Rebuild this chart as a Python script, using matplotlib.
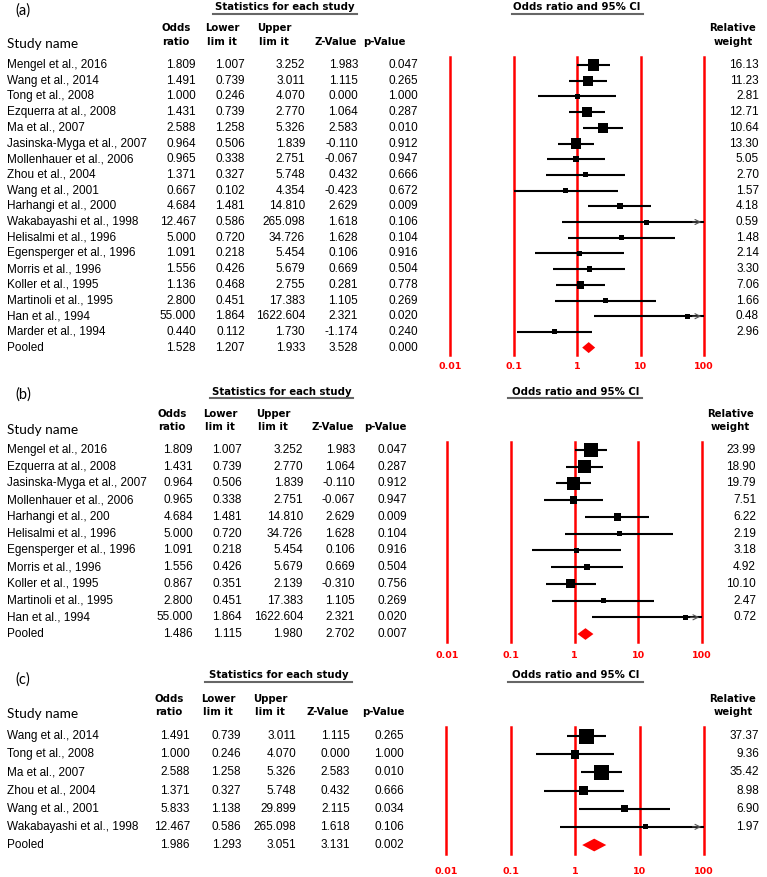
import matplotlib.pyplot as plt
import numpy as np
from matplotlib.lines import Line2D
from matplotlib.ticker import NullLocator
from matplotlib.transforms import blended_transform_factory

# ---- data ----
ticks = [0.01, 0.1, 1, 10, 100]
tick_labels = ["0.01", "0.1", "1", "10", "100"]

studies_a = ["Mengel et al., 2016", "Wang et al., 2014", "Tong et al., 2008", "Ezquerra at al., 2008",
             "Ma et al., 2007", "Jasinska-Myga et al., 2007", "Mollenhauer et al., 2006", "Zhou et al., 2004",
             "Wang et al., 2001", "Harhangi et al., 2000", "Wakabayashi et al., 1998", "Helisalmi et al., 1996",
             "Egensperger et al., 1996", "Morris et al., 1996", "Koller et al., 1995", "Martinoli et al., 1995",
             "Han et al., 1994", "Marder et al., 1994", "Pooled"]
or_a = [1.809, 1.491, 1.000, 1.431, 2.588, 0.964, 0.965, 1.371, 0.667, 4.684, 12.467, 5.000, 1.091, 1.556,
        1.136, 2.800, 55.000, 0.440, 1.528]
lo_a = [1.007, 0.739, 0.246, 0.739, 1.258, 0.506, 0.338, 0.327, 0.102, 1.481, 0.586, 0.720, 0.218, 0.426,
        0.468, 0.451, 1.864, 0.112, 1.207]
up_a = [3.252, 3.011, 4.070, 2.770, 5.326, 1.839, 2.751, 5.748, 4.354, 14.810, 265.098, 34.726, 5.454, 5.679,
        2.755, 17.383, 1622.604, 1.730, 1.933]
z_a = [1.983, 1.115, 0.000, 1.064, 2.583, -0.110, -0.067, 0.432, -0.423, 2.629, 1.618, 1.628, 0.106, 0.669,
       0.281, 1.105, 2.321, -1.174, 3.528]
p_a = [0.047, 0.265, 1.000, 0.287, 0.010, 0.912, 0.947, 0.666, 0.672, 0.009, 0.106, 0.104, 0.916, 0.504,
       0.778, 0.269, 0.020, 0.240, 0.000]
w_a = [16.13, 11.23, 2.81, 12.71, 10.64, 13.30, 5.05, 2.70, 1.57, 4.18, 0.59, 1.48, 2.14, 3.30, 7.06, 1.66,
       0.48, 2.96]

studies_b = ["Mengel et al., 2016", "Ezquerra at al., 2008", "Jasinska-Myga et al., 2007",
             "Mollenhauer et al., 2006", "Harhangi et al., 200", "Helisalmi et al., 1996",
             "Egensperger et al., 1996", "Morris et al., 1996", "Koller et al., 1995", "Martinoli et al., 1995",
             "Han et al., 1994", "Pooled"]
or_b = [1.809, 1.431, 0.964, 0.965, 4.684, 5.000, 1.091, 1.556, 0.867, 2.800, 55.000, 1.486]
lo_b = [1.007, 0.739, 0.506, 0.338, 1.481, 0.720, 0.218, 0.426, 0.351, 0.451, 1.864, 1.115]
up_b = [3.252, 2.770, 1.839, 2.751, 14.810, 34.726, 5.454, 5.679, 2.139, 17.383, 1622.604, 1.980]
z_b = [1.983, 1.064, -0.110, -0.067, 2.629, 1.628, 0.106, 0.669, -0.310, 1.105, 2.321, 2.702]
p_b = [0.047, 0.287, 0.912, 0.947, 0.009, 0.104, 0.916, 0.504, 0.756, 0.269, 0.020, 0.007]
w_b = [23.99, 18.90, 19.79, 7.51, 6.22, 2.19, 3.18, 4.92, 10.10, 2.47, 0.72]

studies_c = ["Wang et al., 2014", "Tong et al., 2008", "Ma et al., 2007", "Zhou et al., 2004",
             "Wang et al., 2001", "Wakabayashi et al., 1998", "Pooled"]
or_c = [1.491, 1.000, 2.588, 1.371, 5.833, 12.467, 1.986]
lo_c = [0.739, 0.246, 1.258, 0.327, 1.138, 0.586, 1.293]
up_c = [3.011, 4.070, 5.326, 5.748, 29.899, 265.098, 3.051]
z_c = [1.115, 0.000, 2.583, 0.432, 2.115, 1.618, 3.131]
p_c = [0.265, 1.000, 0.010, 0.666, 0.034, 0.106, 0.002]
w_c = [37.37, 9.36, 35.42, 8.98, 6.90, 1.97]

# ---- layout (pixel positions of each panel) ----
lay_a = dict(tag="(a)", row0=65, dy=15.7, xaxis=(450, 704), pad=4.5, cols=(196, 245, 305, 358, 418), wcol=759,
             label=(15, 11), stats=(285, 7, 213, 357, 14), orhead=(577, 7, 512, 643, 14),
             h1=28, h2=42, sname=44, hcx=(176, 222, 274, 336, 384, 733))
lay_b = dict(tag="(b)", row0=450, dy=16.73, xaxis=(447, 702), pad=6, cols=(193, 242, 303, 355, 407), wcol=756,
             label=(15, 395), stats=(282, 392, 210, 353, 398), orhead=(576, 392, 508, 642, 398),
             h1=414, h2=427, sname=430, hcx=(172, 220, 273, 333, 385, 730))
lay_c = dict(tag="(c)", row0=736, dy=18.17, xaxis=(446, 704), pad=9, cols=(190, 241, 296, 350, 404), wcol=759,
             label=(15, 680), stats=(279, 675, 205, 352, 682), orhead=(576, 675, 508, 643, 682),
             h1=699, h2=712, sname=714, hcx=(169, 218, 270, 328, 383, 733))

W, H = 767, 877
fig = plt.figure(figsize=(W / 100, H / 100), dpi=100)

DATA_FONT = dict(family="Liberation Sans", fontsize=8.5)
HEAD_FONT = dict(family="DejaVu Sans", fontsize=7.3, fontweight="bold")
CAL_FONT = dict(family="Lato", fontsize=9.8)


def fx(px):
    return px / W


def fy(py):
    return 1 - py / H


def hline(x0, x1, y):
    fig.add_artist(Line2D([fx(x0), fx(x1)], [fy(y), fy(y)], color="#666666", lw=1.5))


def draw_panel(names, odds, lower, upper, zval, pval, weight, lay):
    n = len(names)
    dy = lay["dy"]
    top = lay["row0"] - 0.5 * dy
    bot = lay["row0"] + (n - 0.5) * dy
    x0, x1 = lay["xaxis"]
    ax = fig.add_axes([fx(x0), fy(bot), fx(x1) - fx(x0), (bot - top) / H])
    ax.set_xscale("log")
    ax.set_xlim(ticks[0], ticks[-1])
    ax.set_ylim(n - 0.5, -0.5)
    ax.patch.set_visible(False)
    for s in ax.spines.values():
        s.set_visible(False)

    odds = np.array(odds)
    lower = np.array(lower)
    upper = np.array(upper)
    y = np.arange(n)

    # red reference lines
    for t in ticks:
        ax.axvline(t, color="#ff0000", lw=1.8, clip_on=False, zorder=1)

    # study CIs and boxes
    k = n - 1
    ax.hlines(y[:k], lower[:k], np.minimum(upper[:k], ticks[-1]), color="black", lw=1.5, zorder=3)
    for i in range(k):
        if upper[i] > ticks[-1]:
            ax.annotate("", xy=(ticks[-1], y[i]), xytext=(ticks[-1] * 0.6, y[i]),
                        arrowprops=dict(arrowstyle="->", color="#555555", lw=0.8, mutation_scale=9),
                        zorder=3, annotation_clip=False)
    side = np.clip(2.9 * np.sqrt(np.array(weight)), 5, 15)
    ax.scatter(odds[:k], y[:k], s=(side * 0.72) ** 2, marker="s", color="black", zorder=4, linewidths=0)

    # pooled diamond
    h = 0.35
    yp = y[-1]
    ax.fill([lower[-1], odds[-1], upper[-1], odds[-1]], [yp, yp - h, yp, yp + h], color="#ff0000",
            zorder=4, lw=0)

    ax.set_xticks(ticks)
    ax.set_xticklabels(tick_labels, color="#ff0000", fontweight="bold", fontsize=6.8, family="DejaVu Sans")
    ax.xaxis.set_minor_locator(NullLocator())
    ax.tick_params(axis="x", length=0, pad=lay["pad"])
    ax.set_yticks([])

    # table text
    tr = blended_transform_factory(fig.transFigure, ax.transData)
    cols = lay["cols"]
    for i in range(n):
        ax.text(fx(7), y[i], names[i], transform=tr, ha="left", va="center", **DATA_FONT)
        vals = [f"{odds[i]:.3f}", f"{lower[i]:.3f}", f"{upper[i]:.3f}", f"{zval[i]:.3f}", f"{pval[i]:.3f}"]
        for c, v in zip(cols, vals):
            ax.text(fx(c), y[i], v, transform=tr, ha="right", va="center", **DATA_FONT)
        if i < k:
            ax.text(fx(lay["wcol"]), y[i], f"{weight[i]:.2f}", transform=tr, ha="right", va="center",
                    **DATA_FONT)

    # headers
    lx, ly = lay["label"]
    fig.text(fx(lx), fy(ly), lay["tag"], ha="left", va="center", family="Lato", fontsize=10.5)
    fig.text(fx(7), fy(lay["sname"]), "Study name", ha="left", va="center", **CAL_FONT)

    sx, sy, sa, sb, su = lay["stats"]
    fig.text(fx(sx), fy(sy), "Statistics for each study", ha="center", va="center", **HEAD_FONT)
    hline(sa, sb, su)
    ox, oy, oa, ob, ou = lay["orhead"]
    fig.text(fx(ox), fy(oy), "Odds ratio and 95% CI", ha="center", va="center", **HEAD_FONT)
    hline(oa, ob, ou)

    hc = lay["hcx"]
    two_line = [("Odds", "ratio"), ("Lower", "lim it"), ("Upper", "lim it")]
    for cx, (l1, l2) in zip(hc[:3], two_line):
        fig.text(fx(cx), fy(lay["h1"]), l1, ha="center", va="center", **HEAD_FONT)
        fig.text(fx(cx), fy(lay["h2"]), l2, ha="center", va="center", **HEAD_FONT)
    fig.text(fx(hc[3]), fy(lay["h2"]), "Z-Value", ha="center", va="center", **HEAD_FONT)
    fig.text(fx(hc[4]), fy(lay["h2"]), "p-Value", ha="center", va="center", **HEAD_FONT)
    fig.text(fx(hc[5]), fy(lay["h1"]), "Relative", ha="center", va="center", **HEAD_FONT)
    fig.text(fx(hc[5]), fy(lay["h2"]), "weight", ha="center", va="center", **HEAD_FONT)


draw_panel(studies_a, or_a, lo_a, up_a, z_a, p_a, w_a, lay_a)
draw_panel(studies_b, or_b, lo_b, up_b, z_b, p_b, w_b, lay_b)
draw_panel(studies_c, or_c, lo_c, up_c, z_c, p_c, w_c, lay_c)

fig.savefig("out.png", dpi=100)
plt.close(fig)
